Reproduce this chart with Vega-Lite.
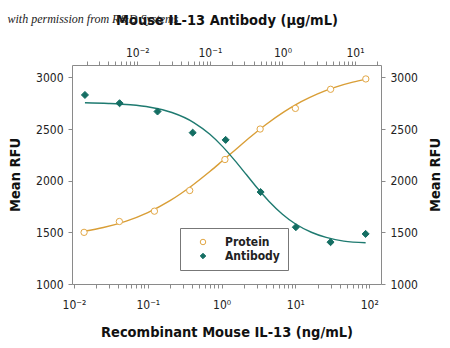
{
  "$schema": "https://vega.github.io/schema/vega-lite/v6.json",
  "width": 309,
  "height": 219,
  "autosize": {"type": "none"},
  "padding": {"left": 72, "top": 65, "right": 69, "bottom": 64},
  "background": "white",
  "title": {
    "text": "with permission from R&D Systems",
    "font": "Liberation Serif",
    "fontStyle": "italic",
    "fontWeight": "normal",
    "fontSize": 12,
    "color": "#222",
    "anchor": "start",
    "frame": "bounds",
    "offset": -14
  },
  "config": {
    "font": "DejaVu Sans Condensed, Liberation Sans",
    "view": {"stroke": null},
    "axis": {
      "grid": false,
      "domainColor": "#8a8a8a",
      "tickColor": "#8a8a8a",
      "tickSize": 4,
      "labelFont": "DejaVu Sans Condensed, Liberation Sans",
      "labelFontSize": 12,
      "labelColor": "#222",
      "titleFont": "DejaVu Sans Condensed, Liberation Sans",
      "titleFontSize": 14.5,
      "titleFontWeight": "bold",
      "titleColor": "#111"
    },
    "legend": {
      "orient": "none",
      "legendX": 108,
      "legendY": 163,
      "strokeColor": "#777",
      "padding": 8,
      "rowPadding": 2,
      "symbolSize": 30,
      "symbolStrokeWidth": 1,
      "symbolOffset": 9,
      "labelOffset": 16,
      "labelFont": "DejaVu Sans Condensed, Liberation Sans",
      "labelFontSize": 12,
      "labelFontWeight": "bold",
      "labelColor": "#222"
    }
  },
  "datasets": {
    "protein_pts": [
      {"conc": 0.0137, "rfu": 1500, "series": "Protein"},
      {"conc": 0.0412, "rfu": 1605, "series": "Protein"},
      {"conc": 0.123, "rfu": 1705, "series": "Protein"},
      {"conc": 0.37, "rfu": 1905, "series": "Protein"},
      {"conc": 1.11, "rfu": 2205, "series": "Protein"},
      {"conc": 3.33, "rfu": 2500, "series": "Protein"},
      {"conc": 10, "rfu": 2700, "series": "Protein"},
      {"conc": 30, "rfu": 2885, "series": "Protein"},
      {"conc": 90, "rfu": 2985, "series": "Protein"}
    ],
    "protein_fit": [
      {"conc": 0.0137, "rfu": 1511},
      {"conc": 0.025, "rfu": 1547},
      {"conc": 0.05, "rfu": 1607},
      {"conc": 0.1, "rfu": 1692},
      {"conc": 0.2, "rfu": 1807},
      {"conc": 0.4, "rfu": 1954},
      {"conc": 0.7, "rfu": 2091},
      {"conc": 1, "rfu": 2185},
      {"conc": 1.5, "rfu": 2293},
      {"conc": 2.5, "rfu": 2428},
      {"conc": 4, "rfu": 2544},
      {"conc": 7, "rfu": 2666},
      {"conc": 12, "rfu": 2765},
      {"conc": 20, "rfu": 2841},
      {"conc": 35, "rfu": 2906},
      {"conc": 60, "rfu": 2954},
      {"conc": 90, "rfu": 2981}
    ],
    "antibody_pts": [
      {"conc": 0.0019, "rfu": 2830, "series": "Antibody"},
      {"conc": 0.0057, "rfu": 2750, "series": "Antibody"},
      {"conc": 0.019, "rfu": 2670, "series": "Antibody"},
      {"conc": 0.058, "rfu": 2465, "series": "Antibody"},
      {"conc": 0.165, "rfu": 2395, "series": "Antibody"},
      {"conc": 0.5, "rfu": 1890, "series": "Antibody"},
      {"conc": 1.53, "rfu": 1550, "series": "Antibody"},
      {"conc": 4.6, "rfu": 1405, "series": "Antibody"},
      {"conc": 14, "rfu": 1485, "series": "Antibody"}
    ],
    "antibody_fit": [
      {"conc": 0.0019, "rfu": 2755},
      {"conc": 0.004, "rfu": 2748},
      {"conc": 0.008, "rfu": 2735},
      {"conc": 0.015, "rfu": 2711},
      {"conc": 0.03, "rfu": 2660},
      {"conc": 0.06, "rfu": 2563},
      {"conc": 0.1, "rfu": 2449},
      {"conc": 0.15, "rfu": 2330},
      {"conc": 0.22, "rfu": 2197},
      {"conc": 0.32, "rfu": 2057},
      {"conc": 0.45, "rfu": 1929},
      {"conc": 0.65, "rfu": 1802},
      {"conc": 1, "rfu": 1676},
      {"conc": 1.5, "rfu": 1583},
      {"conc": 2.5, "rfu": 1501},
      {"conc": 4, "rfu": 1451},
      {"conc": 7, "rfu": 1415},
      {"conc": 14, "rfu": 1400}
    ]
  },
  "layer": [
    {
      "encoding": {
        "x": {
          "field": "conc",
          "type": "quantitative",
          "scale": {"type": "log", "domain": [0.0094, 144.6], "nice": false},
          "axis": {
            "orient": "bottom",
            "title": "Recombinant Mouse IL-13 (ng/mL)",
            "values": [0.01, 0.02, 0.03, 0.04, 0.05, 0.06, 0.07, 0.08, 0.09, 0.1, 0.2, 0.3, 0.4, 0.5, 0.6, 0.7, 0.8, 0.9, 1, 2, 3, 4, 5, 6, 7, 8, 9, 10, 20, 30, 40, 50, 60, 70, 80, 90, 100],
            "labelExpr": "datum.value == 0.01 ? '10⁻²' : datum.value == 0.1 ? '10⁻¹' : datum.value == 1 ? '10⁰' : datum.value == 10 ? '10¹' : datum.value == 100 ? '10²' : ''",
            "labelPadding": 11,
            "titlePadding": 15,
            "labelOverlap": false
          }
        },
        "y": {
          "field": "rfu",
          "type": "quantitative",
          "scale": {"domain": [1000, 3120], "nice": false, "zero": false},
          "axis": {
            "orient": "left",
            "title": "Mean RFU",
            "format": "d",
            "values": [1000, 1500, 2000, 2500, 3000],
            "labelPadding": 5,
            "titlePadding": 13
          }
        }
      },
      "layer": [
        {
          "data": {"name": "protein_fit"},
          "mark": {"type": "line", "color": "#D99E36", "strokeWidth": 1.4, "interpolate": "monotone"}
        },
        {
          "data": {"name": "protein_pts"},
          "mark": {"type": "point", "size": 40, "strokeWidth": 1, "opacity": 1},
          "encoding": {
            "shape": {"field": "series", "type": "nominal", "scale": {"domain": ["Protein", "Antibody"], "range": ["circle", "diamond"]}, "legend": {"title": null}},
            "fill": {"field": "series", "type": "nominal", "scale": {"domain": ["Protein", "Antibody"], "range": ["#ffffff", "#146E63"]}, "legend": {"title": null}},
            "stroke": {"field": "series", "type": "nominal", "scale": {"domain": ["Protein", "Antibody"], "range": ["#E2A745", "#146E63"]}, "legend": {"title": null}}
          }
        }
      ]
    },
    {
      "encoding": {
        "x": {
          "field": "conc",
          "type": "quantitative",
          "scale": {"type": "log", "domain": [0.00126, 22.8], "nice": false},
          "axis": {
            "orient": "top",
            "title": "Mouse IL-13 Antibody (µg/mL)",
            "values": [0.002, 0.003, 0.004, 0.005, 0.006, 0.007, 0.008, 0.009, 0.01, 0.02, 0.03, 0.04, 0.05, 0.06, 0.07, 0.08, 0.09, 0.1, 0.2, 0.3, 0.4, 0.5, 0.6, 0.7, 0.8, 0.9, 1, 2, 3, 4, 5, 6, 7, 8, 9, 10, 20],
            "labelExpr": "datum.value == 0.01 ? '10⁻²' : datum.value == 0.1 ? '10⁻¹' : datum.value == 1 ? '10⁰' : datum.value == 10 ? '10¹' : ''",
            "labelPadding": 2,
            "titlePadding": 19,
            "labelOverlap": false
          }
        },
        "y": {
          "field": "rfu",
          "type": "quantitative",
          "axis": {
            "orient": "right",
            "title": "Mean RFU",
            "format": "d",
            "titleAngle": -90,
            "values": [1000, 1500, 2000, 2500, 3000],
            "labelPadding": 5,
            "titlePadding": 25
          }
        }
      },
      "layer": [
        {
          "data": {"name": "antibody_fit"},
          "mark": {"type": "line", "color": "#1E7A70", "strokeWidth": 1.4, "interpolate": "monotone"}
        },
        {
          "data": {"name": "antibody_pts"},
          "mark": {"type": "point", "size": 50, "strokeWidth": 1, "opacity": 1},
          "encoding": {
            "shape": {"field": "series", "type": "nominal", "legend": {"title": null}},
            "fill": {"field": "series", "type": "nominal", "legend": {"title": null}},
            "stroke": {"field": "series", "type": "nominal", "legend": {"title": null}}
          }
        }
      ]
    }
  ],
  "resolve": {
    "scale": {"x": "independent"},
    "axis": {"x": "independent", "y": "independent"}
  }
}
